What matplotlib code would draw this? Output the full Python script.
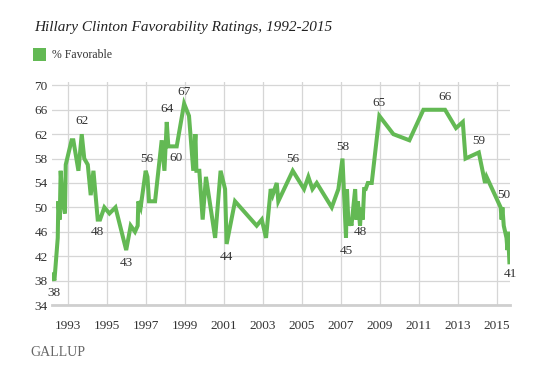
import matplotlib
matplotlib.use('Agg')
import matplotlib.pyplot as plt
from matplotlib.patches import Rectangle

# Gallup % Favorable, date as decimal year
years = [1992.21, 1992.32, 1992.49, 1992.52, 1992.59, 1992.64, 1992.73, 1992.86, 1992.90,
         1993.20, 1993.29, 1993.55, 1993.72, 1993.85, 1994.03, 1994.18, 1994.32, 1994.54,
         1994.66, 1994.88, 1995.14, 1995.45, 1996.00, 1996.23, 1996.45, 1996.59, 1996.62,
         1996.74, 1997.00, 1997.09, 1997.17, 1997.48, 1997.82, 1997.96, 1998.08, 1998.16,
         1998.59, 1998.97, 1999.22, 1999.44, 1999.55, 1999.60, 1999.75, 1999.92, 2000.09,
         2000.56, 2000.84, 2001.07, 2001.15, 2001.58, 2002.69, 2002.95, 2003.17, 2003.41,
         2003.51, 2003.72, 2003.80, 2004.54, 2005.12, 2005.34, 2005.55, 2005.77, 2006.54,
         2006.88, 2007.09, 2007.27, 2007.32, 2007.40, 2007.48, 2007.55, 2007.74, 2007.80,
         2007.88, 2007.99, 2008.05, 2008.13, 2008.20, 2008.28, 2008.39, 2008.59, 2008.98,
         2009.70, 2010.52, 2011.24, 2012.35, 2012.91, 2013.26, 2013.40, 2014.08, 2014.40,
         2014.48, 2015.20, 2015.25, 2015.29, 2015.36, 2015.50, 2015.55, 2015.58, 2015.65]
favorable = [39, 38, 45, 51, 48, 56, 51, 49, 57,
             61, 61, 56, 62, 58, 57, 52, 56, 48,
             48, 50, 49, 50, 43, 47, 46, 47, 51,
             50, 56, 55, 51, 51, 61, 56, 64, 60,
             60, 67, 65, 56, 62, 56, 56, 48, 55,
             45, 56, 53, 44, 51, 47, 48, 45, 53,
             52, 54, 51, 56, 53, 55, 53, 54, 50,
             53, 58, 45, 53, 47, 48, 47, 53, 48,
             51, 47, 50, 48, 53, 53, 54, 54, 65,
             62, 61, 66, 66, 63, 64, 58, 59, 54,
             55, 50, 48, 50, 47, 45, 43, 46, 41]

# labelled points
label_years = [1992.32, 1993.72, 1994.54, 1996.00, 1997.00, 1998.08, 1998.16, 1998.97,
               2001.15, 2004.54, 2007.09, 2007.27, 2008.13, 2008.98, 2012.35, 2014.08,
               2015.20, 2015.65]
label_values = [38, 62, 48, 43, 56, 64, 60, 67, 44, 56, 58, 45, 48, 65, 66, 59, 50, 41]
# offsets in pixels (dx, dy)
label_offsets = [(0, -12), (0, 13), (0, -12), (0, -13), (1, 12), (0, 12.5), (8, -12), (0, 12),
                 (0, -13), (0, 12), (0, 12), (0, -13), (-2, -12), (0, 12.5), (0, 13), (0, 11),
                 (3, 12), (1, -12)]

yticks = [34, 38, 42, 46, 50, 54, 58, 62, 66, 70]
xticks = [1993, 1995, 1997, 1999, 2001, 2003, 2005, 2007, 2009, 2011, 2013, 2015]

green = '#63b954'
grid_c = '#d6d6d6'
text_c = '#333333'
serif = ['Liberation Serif', 'DejaVu Serif']

W, H = 544, 377
dpi = 100
fig = plt.figure(figsize=(W / dpi, H / dpi), dpi=dpi)
fig.patch.set_facecolor('white')

# axes box in pixels
x0, x1 = 51.7, 510
y_top, y_bot = 81.7, 305
ax = fig.add_axes([x0 / W, 1 - y_bot / H, (x1 - x0) / W, (y_bot - y_top) / H])

ax.plot(years, favorable, color=green, lw=2.9, solid_joinstyle='miter', zorder=3)

ax.set_xlim(1992.18, 2015.68)
ax.set_ylim(34, 70.6)
ax.set_yticks(yticks)
ax.set_xticks(xticks)
ax.set_xticklabels([str(x) for x in xticks])
ax.grid(True, color=grid_c, lw=0.9)
ax.set_axisbelow(True)
for s in ['top', 'right', 'left']:
    ax.spines[s].set_visible(False)
ax.spines['bottom'].set_color('#cfcfcf')
ax.spines['bottom'].set_linewidth(2)
ax.tick_params(axis='both', length=0, colors=text_c, labelsize=9.5)
ax.tick_params(axis='y', pad=3)
ax.tick_params(axis='x', pad=11)
for lab in ax.get_xticklabels() + ax.get_yticklabels():
    lab.set_family(serif)

pt = 72.0 / dpi
for yr, v, (dx, dy) in zip(label_years, label_values, label_offsets):
    ax.annotate(str(v), (yr, v), xytext=(dx * pt, dy * pt), textcoords='offset points',
                ha='center', va='center', fontsize=9.5, color=text_c, family=serif)

# title, legend, logo
fig.text(34 / W, 1 - 27 / H, 'Hillary Clinton Favorability Ratings, 1992-2015',
         fontsize=11, style='italic', family=serif, color='#222222', va='center', ha='left')
fig.add_artist(Rectangle((33 / W, 1 - 61 / H), 13 / W, 13 / H, transform=fig.transFigure,
                         facecolor=green, edgecolor='none'))
fig.text(52 / W, 1 - 54.5 / H, '% Favorable', fontsize=8.5, family=serif, color=text_c,
         va='center', ha='left')
fig.text(30 / W, 1 - 352 / H, 'GALLUP', fontsize=10, family=serif, color='#666666',
         va='center', ha='left')

fig.savefig('out.png', dpi=dpi)
